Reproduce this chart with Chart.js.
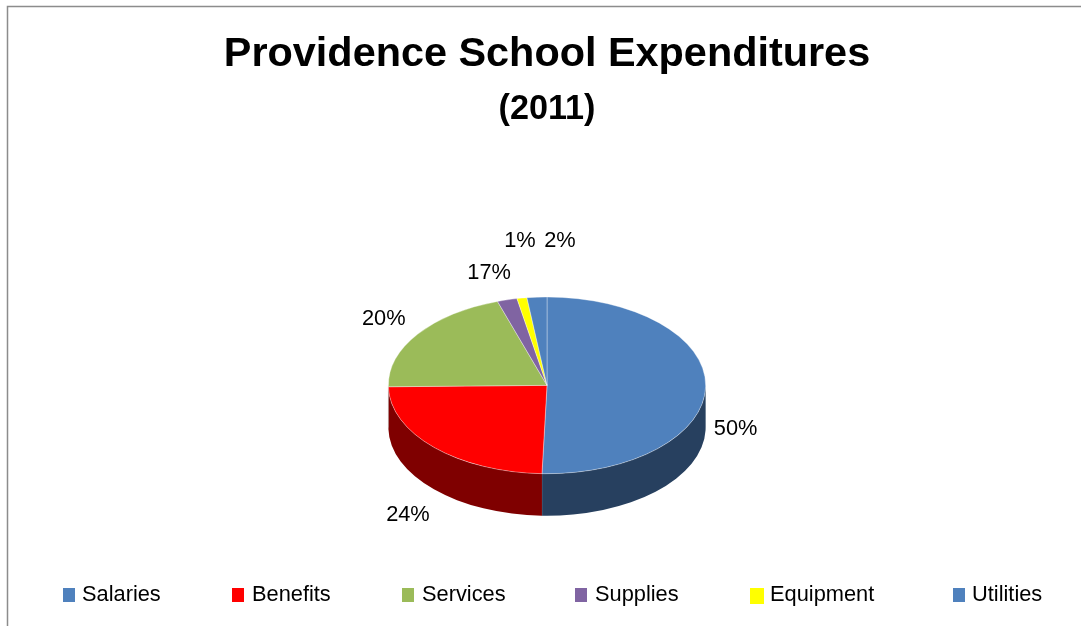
<!DOCTYPE html>
<html>
<head>
<meta charset="utf-8">
<title>Providence School Expenditures</title>
<script src="https://cdn.jsdelivr.net/npm/chart.js@4/dist/chart.umd.min.js"></script>
<style>
	html, body { margin:0; padding:0; background:#fff; overflow:hidden; }
	canvas { display:block; }
</style>
</head>
<body>
<canvas id="myChart" width="1081" height="626"></canvas>
<script>
var categories = ['Salaries', 'Benefits', 'Services', 'Supplies', 'Equipment', 'Utilities'];
// supplies is sized as the remainder of the whole, its printed label stays 17%
var values = [50, 24, 20, 2, 1, 2];
var valueLabels = ['50%', '24%', '20%', '17%', '1%', '2%'];
var topColors = ['#4F81BD', '#FF0000', '#9BBB59', '#8064A2', '#FFFF00', '#4F81BD'];
var wallColors = ['#27405F', '#7F0000', '#5C7035', '#4C3C61', '#999900', '#27405F'];

// label offset from the rim point at the middle of each slice
var labelOffsets = [[30, 42], [-26, 68], [-34, -15], [-18, -27], [-2, -57], [23, -56]];
var legendBoxX = [63, 232, 402, 575, 750, 953];
var legendBoxW = [12, 12, 12, 12, 14, 12];
var legendBoxH = [14, 14, 14, 14, 16, 14];
var legendTextX = [82, 252, 422, 595, 770, 972];

var tilt = 0.557;
var depth = 42;
var FONT = '"Liberation Sans", Arial, sans-serif';

// squash the pie into an ellipse and draw the side wall under it
var pie3d = {
	id:'pie3d',
	beforeDatasetDraw:function(chart){
		var ctx = chart.ctx;
		var arcs = chart.getDatasetMeta(0).data;
		var cx = arcs[0].x, cy = arcs[0].y, r = arcs[0].outerRadius;
		ctx.save();
		arcs.forEach(function(arc, i){
			var a = Math.max(arc.startAngle, 0);
			var b = Math.min(arc.endAngle, Math.PI);
			if(b <= a) return;
			ctx.beginPath();
			ctx.ellipse(cx, cy, r, r*tilt, 0, a, b);
			ctx.ellipse(cx, cy+depth, r, r*tilt, 0, b, a, true);
			ctx.closePath();
			ctx.fillStyle = wallColors[i];
			ctx.fill();
			ctx.strokeStyle = 'rgba(190,190,190,0.6)';
			ctx.lineWidth = 0.5;
			ctx.beginPath();
			ctx.moveTo(cx+r*Math.cos(b), cy+r*tilt*Math.sin(b));
			ctx.lineTo(cx+r*Math.cos(b), cy+depth+r*tilt*Math.sin(b));
			ctx.stroke();
		});
		ctx.restore();
		ctx.save();
		ctx.translate(0, cy);
		ctx.scale(1, tilt);
		ctx.translate(0, -cy);
	},
	afterDatasetDraw:function(chart){
		chart.ctx.restore();
	},
	afterDraw:function(chart){
		var ctx = chart.ctx;
		var arcs = chart.getDatasetMeta(0).data;
		ctx.save();

		// frame on the top and left side
		ctx.strokeStyle = '#8C8C8C';
		ctx.lineWidth = 1.5;
		ctx.beginPath();
		ctx.moveTo(7.5, 626);
		ctx.lineTo(7.5, 6.5);
		ctx.lineTo(1081, 6.5);
		ctx.stroke();

		// percent labels
		ctx.fillStyle = '#000';
		ctx.font = '21.8px ' + FONT;
		ctx.textAlign = 'center';
		ctx.textBaseline = 'middle';
		arcs.forEach(function(arc, i){
			var mid = (arc.startAngle + arc.endAngle) / 2;
			var px = arc.x + arc.outerRadius*Math.cos(mid);
			var py = arc.y + arc.outerRadius*tilt*Math.sin(mid);
			ctx.fillText(valueLabels[i], px+labelOffsets[i][0], py+labelOffsets[i][1]);
		});

		// legend along the bottom
		ctx.textAlign = 'left';
		ctx.textBaseline = 'alphabetic';
		categories.forEach(function(name, i){
			ctx.fillStyle = topColors[i];
			ctx.fillRect(legendBoxX[i], 588, legendBoxW[i], legendBoxH[i]);
			ctx.fillStyle = '#000';
			ctx.fillText(name, legendTextX[i], 601);
		});
		ctx.restore();
	}
};

var ctx = document.getElementById('myChart').getContext('2d');
var myPieChart = new Chart(ctx,{
	type:'pie',
	data:{
		labels:categories,
		datasets:[{
			data:values,
			backgroundColor:topColors,
			borderColor:'rgba(255,255,255,0.45)',
			borderWidth:1,
			clip:false
		}]
	},
	options:{
		responsive:false,
		animation:false,
		layout:{padding:{left:13, right:0, top:0, bottom:81.5}},
		plugins:{
			legend:{display:false},
			tooltip:{enabled:false},
			title:{
				display:true,
				text:'Providence School Expenditures',
				color:'#000',
				font:{family:FONT, size:41.4, weight:'bold'},
				padding:{top:30, bottom:6}
			},
			subtitle:{
				display:true,
				text:'(2011)',
				color:'#000',
				font:{family:FONT, size:34.2, weight:'bold'},
				padding:{top:3, bottom:96.5}
			}
		}
	},
	plugins:[pie3d]
});
</script>
</body>
</html>
